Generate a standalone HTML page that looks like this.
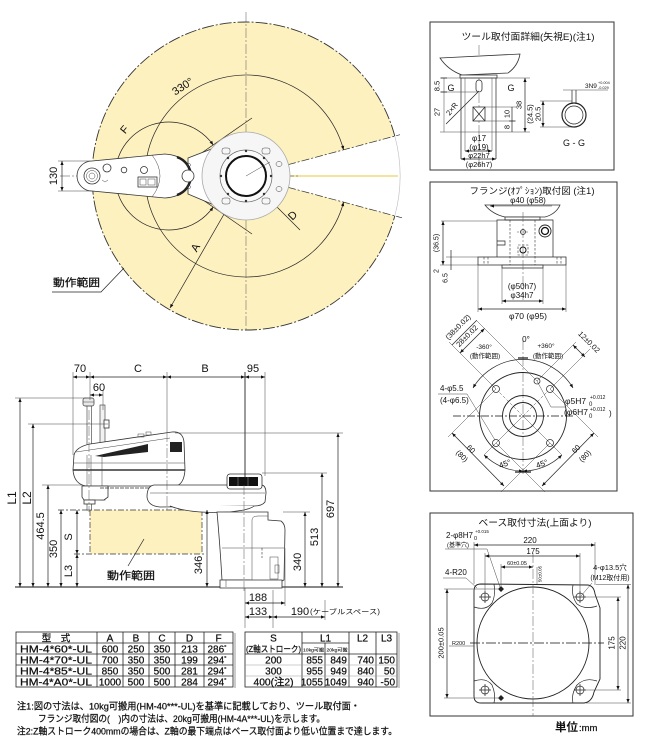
<!DOCTYPE html>
<html><head><meta charset="utf-8">
<style>
html,body{margin:0;padding:0;background:#fff;}
svg{display:block;}
text{font-family:"Liberation Sans","Noto Sans CJK JP",sans-serif;fill:#111;}
.t{stroke:#222;stroke-width:0.7;fill:none}
.th{stroke:#444;stroke-width:0.5;fill:none}
.cl{stroke:#555;stroke-width:0.5;fill:none;stroke-dasharray:10,2,2,2}
.hd{stroke:#333;stroke-width:0.6;fill:none;stroke-dasharray:2.5,1.5}
.w{fill:#fff;stroke:#333;stroke-width:0.8}
.bt{stroke:#111;stroke-width:0.25}
</style></head><body>
<svg width="649" height="740" viewBox="0 0 649 740" xmlns="http://www.w3.org/2000/svg">
<defs>
<marker id="a" viewBox="0 0 10 10" refX="10" refY="5" markerUnits="userSpaceOnUse" markerWidth="5" markerHeight="4" orient="auto-start-reverse"><path d="M0,1 L10,5 L0,9 Z" fill="#111"/></marker>
</defs>

<!-- ================= TOP VIEW ================= -->
<path d="M246,176 L394.8,136.1 A154,154 0 1,0 394.8,215.9 Z" fill="#fdf1c0"/>
<path d="M394.8,136.1 A154,154 0 1,0 394.8,215.9" fill="none" stroke="#333" stroke-width="0.9" stroke-dasharray="12,2,2,2"/>
<path d="M394.8,136.1 A154,154 0 0,1 394.8,215.9" fill="none" stroke="#bbb" stroke-width="0.6"/>
<line x1="290" y1="176" x2="398" y2="176" stroke="#f1da7c" stroke-width="1.6"/>
<line x1="246" y1="12" x2="246" y2="332" class="cl"/>
<line x1="288" y1="164.7" x2="400" y2="134.7" stroke="#333" stroke-width="0.7" stroke-dasharray="8,2,2,2"/>
<line x1="288" y1="187.3" x2="402" y2="217.8" stroke="#333" stroke-width="0.7" stroke-dasharray="8,2,2,2"/>
<path d="M343.6,149.9 A101,101 0 1,0 343.6,202.1" class="t" marker-start="url(#a)" marker-end="url(#a)"/>
<path d="M213.2,145 A54,54 0 1,0 213.2,207" class="t" marker-start="url(#a)" marker-end="url(#a)"/>
<line x1="190" y1="161" x2="252" y2="118" class="t"/>
<line x1="190" y1="191" x2="252" y2="234" class="t"/>
<line x1="246" y1="176" x2="170" y2="308" class="t" marker-end="url(#a)"/>
<line x1="246" y1="176" x2="300" y2="230" class="t"/>
<line x1="246" y1="176" x2="262" y2="192" class="t" marker-end="url(#a)"/>
<line x1="60" y1="176" x2="300" y2="176" class="th" stroke-dasharray="10,2,2,2"/>

<path d="M188,158 L214,148 L214,205 L188,194 Z" class="w"/>
<circle cx="246" cy="176" r="44" fill="#f6f6f6" stroke="#aaa" stroke-width="0.8"/>
<path d="M214,148 Q228,140 246,138 L246,214 Q228,212 214,205 Z" fill="#f6f6f6" stroke="none"/>
<rect x="222" y="148" width="8" height="6" rx="2" class="th"/>
<rect x="262" y="148" width="8" height="6" rx="2" class="th"/>
<rect x="222" y="198" width="8" height="6" rx="2" class="th"/>
<rect x="262" y="198" width="8" height="6" rx="2" class="th"/>
<ellipse cx="279" cy="164" rx="3" ry="2.5" class="th"/>
<ellipse cx="279" cy="189" rx="3" ry="2.5" class="th"/>
<circle cx="246" cy="176" r="26" fill="#fafafa" stroke="#666" stroke-width="0.7"/>
<circle cx="246" cy="176" r="20" fill="#fff" stroke="#111" stroke-width="2"/>
<g fill="#333">
<circle cx="246" cy="151" r="1.2"/><circle cx="246" cy="201" r="1.2"/><circle cx="221" cy="176" r="1.2"/><circle cx="271" cy="176" r="1.2"/>
<circle cx="264" cy="158" r="1.2"/><circle cx="228" cy="158" r="1.2"/><circle cx="228" cy="194" r="1.2"/><circle cx="264" cy="194" r="1.2"/>
</g>
<line x1="246" y1="176" x2="270" y2="162" class="th"/>
<path d="M92,161 L165,154 Q190,156 190,176 Q190,196 165,198 L92,191 A15,15 0 0 1 92,161 Z" class="w"/>
<path d="M177,157 A20,20 0 0 1 177,195" stroke="#222" stroke-width="2.5" fill="none"/>
<circle cx="188" cy="176" r="6" class="w"/>
<circle cx="189" cy="165" r="1.5" class="th"/><circle cx="189" cy="187" r="1.5" class="th"/>
<path d="M152,155 Q168,176 152,197" class="th"/>
<circle cx="92" cy="176" r="8" fill="#fff" stroke="#333" stroke-width="0.8"/>
<circle cx="92" cy="176" r="5.5" class="th"/>
<circle cx="92" cy="176" r="3" class="th"/>
<circle cx="107" cy="168" r="4" class="w"/>
<circle cx="124" cy="170" r="2.8" class="w"/>
<circle cx="144" cy="170" r="3.5" class="w"/>
<rect x="138" y="177" width="19" height="10" class="w"/>
<rect x="140" y="179" width="6" height="6" class="th"/><rect x="148" y="179" width="7" height="6" class="th"/>
<path d="M102,180 l3,2 l3,-2" class="th"/>
<line x1="58" y1="161" x2="92" y2="161" class="th"/>
<line x1="58" y1="191" x2="92" y2="191" class="th"/>
<line x1="62" y1="161" x2="62" y2="191" class="t" marker-start="url(#a)" marker-end="url(#a)"/>
<text transform="translate(54,176) rotate(-90)" text-anchor="middle" dominant-baseline="central" font-size="11">130</text>
<text transform="translate(183,87) rotate(-33)" text-anchor="middle" dominant-baseline="central" font-size="11">330°</text>
<text transform="translate(125,130) rotate(-50)" text-anchor="middle" dominant-baseline="central" font-size="11">F</text>
<text transform="translate(196,248) rotate(-60)" text-anchor="middle" dominant-baseline="central" font-size="11">A</text>
<text transform="translate(293,216) rotate(-45)" text-anchor="middle" dominant-baseline="central" font-size="11">D</text>
<text x="53" y="286" font-size="10.5" textLength="47" lengthAdjust="spacingAndGlyphs" class="bt">動作範囲</text>
<path d="M52,292 L101,292 L124,268" class="t"/>

<!-- ================= SIDE VIEW ================= -->
<rect x="90" y="510" width="112" height="44" fill="#fdf1c0"/>
<path d="M90,510 L90,554 M202,510 L202,554" stroke="#333" stroke-width="0.7" stroke-dasharray="6,2,2,2"/>
<line x1="58" y1="510" x2="204" y2="510" stroke="#333" stroke-width="0.8" stroke-dasharray="6,2,2,2"/>
<line x1="74" y1="554" x2="204" y2="554" stroke="#333" stroke-width="0.8" stroke-dasharray="6,2,2,2"/>
<text x="107" y="579" font-size="10.5" textLength="48" lengthAdjust="spacingAndGlyphs" class="bt">動作範囲</text>
<line x1="128" y1="566" x2="144" y2="539" class="t"/>
<line x1="15" y1="587" x2="343" y2="587" stroke="#111" stroke-width="1"/>

<rect x="100" y="405" width="5" height="95" fill="#f2f2f2" stroke="#333" stroke-width="0.6"/>
<rect x="104" y="420" width="5" height="8" class="w"/>
<rect x="87" y="405" width="4.5" height="105" fill="#fff" stroke="#333" stroke-width="0.6"/>
<rect x="83" y="398" width="11" height="8" rx="2" fill="#e8e8e8" stroke="#333" stroke-width="0.7"/>
<line x1="83" y1="402" x2="94" y2="402" class="th"/>
<path d="M74,455 Q76,447 90,444 L172,432 Q183,431 184,442 L185,470 Q184,484 176,486 L86,486 Q74,484 73,470 Z" class="w"/>
<line x1="73" y1="470" x2="185" y2="470" stroke="#333" stroke-width="1.4"/>
<line x1="74" y1="463" x2="185" y2="463" class="th"/>
<path d="M76,452 L170,438" class="th"/>
<path d="M95,456 L148,444 L148,452 L104,457 Z" fill="#222"/>
<rect x="170" y="442" width="12" height="10" fill="#222"/>
<rect x="138" y="434" width="6" height="3" class="th"/><rect x="146" y="432" width="5" height="3" class="th"/>
<line x1="87" y1="455" x2="87" y2="486" class="th"/><line x1="91" y1="455" x2="91" y2="486" class="th"/>
<line x1="102" y1="455" x2="102" y2="486" class="th"/>
<path d="M82,486 L108,486 L108,497 L104,500 L84,500 L82,497 Z" class="w"/>
<rect x="84" y="500" width="11" height="4" class="w"/>
<line x1="100" y1="488" x2="150" y2="488" stroke="#333" stroke-width="0.8" stroke-dasharray="4,1"/>
<path d="M154,485 L262,485 Q266,486 266,493 L265,502 Q262,506 254,506 L160,507 Q148,506 147,497 Q147,486 154,485 Z" class="w"/>
<path d="M170,506 Q190,514 230,512 L244,510 Q252,508 254,506" class="w"/>
<line x1="150" y1="493" x2="265" y2="493" class="th"/>
<rect x="227" y="474" width="35" height="15" rx="3" class="w"/>
<rect x="229" y="477" width="29" height="9" fill="#111"/>
<line x1="238" y1="477" x2="238" y2="486" stroke="#888" stroke-width="0.6"/><line x1="248" y1="477" x2="248" y2="486" stroke="#888" stroke-width="0.6"/>
<path d="M217,512 L268,512 L268,520 L281,521 Q285,524 285,530 L284,580 L276,584 L250,584 L250,580 L222,580 Q220,545 217,512 Z" class="w"/>
<path d="M252,520 Q252,516 258,516 L268,516" class="th"/>
<line x1="252" y1="520" x2="252" y2="580" class="th"/>
<line x1="222" y1="548" x2="284" y2="548" class="th"/>
<line x1="262" y1="548" x2="262" y2="558" class="hd"/>
<rect x="270" y="557" width="8" height="22" class="th"/>
<rect x="275" y="565" width="4" height="8" class="th"/>
<path d="M220,580 L282,580 L282,588 L220,588 Z" class="w"/>
<line x1="226" y1="580" x2="226" y2="587" class="th"/>
<line x1="244" y1="485" x2="244" y2="592" class="cl"/>
<line x1="167" y1="432" x2="167" y2="512" class="cl"/>
<line x1="89" y1="410" x2="89" y2="512" class="cl"/>

<line x1="73" y1="372" x2="73" y2="455" class="th"/>
<line x1="90" y1="372" x2="90" y2="400" class="th"/>
<line x1="167" y1="372" x2="167" y2="432" class="th"/>
<line x1="245" y1="372" x2="245" y2="478" stroke="#222" stroke-width="0.9"/>
<line x1="265" y1="372" x2="265" y2="476" class="th"/>
<line x1="73" y1="377" x2="90" y2="377" class="t" marker-start="url(#a)" marker-end="url(#a)"/>
<line x1="90" y1="377" x2="167" y2="377" class="t" marker-start="url(#a)" marker-end="url(#a)"/>
<line x1="167" y1="377" x2="245" y2="377" class="t" marker-start="url(#a)" marker-end="url(#a)"/>
<line x1="245" y1="377" x2="265" y2="377" class="t" marker-start="url(#a)" marker-end="url(#a)"/>
<text x="80" y="372" font-size="11" text-anchor="middle">70</text>
<text x="138" y="372" font-size="11" text-anchor="middle">C</text>
<text x="205" y="372" font-size="11" text-anchor="middle">B</text>
<text x="253" y="372" font-size="11" text-anchor="middle">95</text>
<line x1="103" y1="390" x2="103" y2="410" class="th"/>
<line x1="90" y1="395" x2="103" y2="395" class="t" marker-start="url(#a)" marker-end="url(#a)"/>
<text x="99" y="391" font-size="11" text-anchor="middle">60</text>
<line x1="15" y1="398" x2="86" y2="398" class="th"/>
<line x1="28" y1="424" x2="108" y2="424" class="th"/>
<line x1="42" y1="485" x2="82" y2="485" class="th"/>
<line x1="20" y1="398" x2="20" y2="587" class="t" marker-start="url(#a)" marker-end="url(#a)"/>
<line x1="33" y1="424" x2="33" y2="587" class="t" marker-start="url(#a)" marker-end="url(#a)"/>
<line x1="48" y1="485" x2="48" y2="587" class="t" marker-start="url(#a)" marker-end="url(#a)"/>
<line x1="61" y1="510" x2="61" y2="587" class="t" marker-start="url(#a)" marker-end="url(#a)"/>
<line x1="77" y1="510" x2="77" y2="554" class="t" marker-start="url(#a)" marker-end="url(#a)"/>
<line x1="77" y1="554" x2="77" y2="587" class="t" marker-start="url(#a)" marker-end="url(#a)"/>
<text transform="translate(12,498) rotate(-90)" text-anchor="middle" dominant-baseline="central" font-size="12">L1</text>
<text transform="translate(27,498) rotate(-90)" text-anchor="middle" dominant-baseline="central" font-size="12">L2</text>
<text transform="translate(41,526) rotate(-90)" text-anchor="middle" dominant-baseline="central" font-size="11">464.5</text>
<text transform="translate(54,549) rotate(-90)" text-anchor="middle" dominant-baseline="central" font-size="11">350</text>
<text transform="translate(69,537) rotate(-90)" text-anchor="middle" dominant-baseline="central" font-size="11">S</text>
<text transform="translate(69,571) rotate(-90)" text-anchor="middle" dominant-baseline="central" font-size="11">L3</text>
<line x1="207" y1="510" x2="207" y2="587" class="t" marker-start="url(#a)" marker-end="url(#a)"/>
<text transform="translate(199,565) rotate(-90)" text-anchor="middle" dominant-baseline="central" font-size="11">346</text>
<line x1="175" y1="433" x2="343" y2="433" class="th"/>
<line x1="262" y1="473" x2="327" y2="473" class="th"/>
<line x1="283" y1="512" x2="310" y2="512" class="th"/>
<line x1="305" y1="512" x2="305" y2="587" class="t" marker-start="url(#a)" marker-end="url(#a)"/>
<line x1="322" y1="473" x2="322" y2="587" class="t" marker-start="url(#a)" marker-end="url(#a)"/>
<line x1="338" y1="433" x2="338" y2="587" class="t" marker-start="url(#a)" marker-end="url(#a)"/>
<text transform="translate(298,562) rotate(-90)" text-anchor="middle" dominant-baseline="central" font-size="11">340</text>
<text transform="translate(315,537) rotate(-90)" text-anchor="middle" dominant-baseline="central" font-size="11">513</text>
<text transform="translate(331,509) rotate(-90)" text-anchor="middle" dominant-baseline="central" font-size="11">697</text>
<line x1="245" y1="588" x2="245" y2="628" class="th"/>
<line x1="285" y1="548" x2="285" y2="606" class="th"/>
<line x1="273" y1="590" x2="273" y2="628" class="th"/>
<line x1="325" y1="600" x2="325" y2="620" class="th"/>
<line x1="245" y1="603" x2="285" y2="603" class="t" marker-start="url(#a)" marker-end="url(#a)"/>
<line x1="245" y1="617" x2="273" y2="617" class="t" marker-start="url(#a)" marker-end="url(#a)"/>
<line x1="273" y1="617" x2="325" y2="617" class="t" marker-start="url(#a)" marker-end="url(#a)"/>
<text x="258" y="601" font-size="11" text-anchor="middle">188</text>
<text x="258" y="615" font-size="11" text-anchor="middle">133</text>
<text x="300" y="615" font-size="11" text-anchor="middle">190</text>
<text x="310" y="614" font-size="7" textLength="70" lengthAdjust="spacingAndGlyphs">(ケーブルスペース)</text>

<!-- ================= TABLES ================= -->
<g stroke="#222" stroke-width="0.8" fill="none">
<rect x="16" y="632" width="217" height="55"/>
<line x1="16" y1="643" x2="233" y2="643"/><line x1="16" y1="654" x2="233" y2="654"/><line x1="16" y1="665" x2="233" y2="665"/><line x1="16" y1="676" x2="233" y2="676"/>
<line x1="97" y1="632" x2="97" y2="687"/><line x1="123" y1="632" x2="123" y2="687"/><line x1="149" y1="632" x2="149" y2="687"/><line x1="175" y1="632" x2="175" y2="687"/><line x1="204" y1="632" x2="204" y2="687"/>
<rect x="245" y="632" width="152" height="55"/>
<line x1="245" y1="654" x2="397" y2="654"/>
<line x1="302" y1="643" x2="349" y2="643"/>
<line x1="302" y1="632" x2="302" y2="687"/><line x1="325" y1="643" x2="325" y2="687"/><line x1="349" y1="632" x2="349" y2="687"/><line x1="376" y1="632" x2="376" y2="687"/>
</g>
<line x1="245" y1="665" x2="397" y2="665" stroke="#999" stroke-width="0.6"/>
<line x1="245" y1="676" x2="397" y2="676" stroke="#999" stroke-width="0.6"/>
<line x1="235" y1="633" x2="235" y2="688" stroke="#bbb" stroke-width="1.5"/>
<line x1="399" y1="633" x2="399" y2="688" stroke="#bbb" stroke-width="1.5"/>
<g font-size="10" text-anchor="middle" class="bt">
<text x="56" y="641.5" font-size="9.5">型　式</text>
<text x="110" y="641.5">A</text><text x="136" y="641.5">B</text><text x="162" y="641.5">C</text><text x="189.5" y="641.5">D</text><text x="218.5" y="641.5">F</text>
<text x="56" y="652.5" textLength="72" lengthAdjust="spacingAndGlyphs">HM-4*60*-UL</text>
<text x="56" y="663.5" textLength="72" lengthAdjust="spacingAndGlyphs">HM-4*70*-UL</text>
<text x="56" y="674.5" textLength="72" lengthAdjust="spacingAndGlyphs">HM-4*85*-UL</text>
<text x="56" y="685.5" textLength="72" lengthAdjust="spacingAndGlyphs">HM-4*A0*-UL</text>
<text x="110" y="652.5">600</text><text x="136" y="652.5">250</text><text x="162" y="652.5">350</text><text x="189.5" y="652.5">213</text><text x="217" y="652.5">286<tspan font-size="6" dy="-3">°</tspan></text>
<text x="110" y="663.5">700</text><text x="136" y="663.5">350</text><text x="162" y="663.5">350</text><text x="189.5" y="663.5">199</text><text x="217" y="663.5">294<tspan font-size="6" dy="-3">°</tspan></text>
<text x="110" y="674.5">850</text><text x="136" y="674.5">350</text><text x="162" y="674.5">500</text><text x="189.5" y="674.5">281</text><text x="217" y="674.5">294<tspan font-size="6" dy="-3">°</tspan></text>
<text x="110" y="685.5">1000</text><text x="136" y="685.5">500</text><text x="162" y="685.5">500</text><text x="189.5" y="685.5">284</text><text x="217" y="685.5">294<tspan font-size="6" dy="-3">°</tspan></text>
<text x="273.5" y="641.5">S</text>
<text x="273.5" y="652" font-size="8.5" textLength="55" lengthAdjust="spacingAndGlyphs">(Z軸ストローク)</text>
<text x="325.5" y="641.5">L1</text>
<text x="313.5" y="651.5" font-size="4.8" textLength="21" lengthAdjust="spacingAndGlyphs" stroke-width="0.1">10kg可搬</text>
<text x="337" y="651.5" font-size="4.8" textLength="21" lengthAdjust="spacingAndGlyphs" stroke-width="0.1">20kg可搬</text>
<text x="362.5" y="641.5">L2</text><text x="386.5" y="641.5">L3</text>
<text x="273.5" y="663.5">200</text><text x="273.5" y="674.5">300</text><text x="273.5" y="685.5" textLength="40" lengthAdjust="spacingAndGlyphs">400(注2)</text>
</g>
<g font-size="10" text-anchor="end" class="bt">
<text x="323" y="663.5">855</text><text x="347" y="663.5">849</text><text x="374" y="663.5">740</text><text x="395" y="663.5">150</text>
<text x="323" y="674.5">955</text><text x="347" y="674.5">949</text><text x="374" y="674.5">840</text><text x="395" y="674.5">50</text>
<text x="323" y="685.5">1055</text><text x="347" y="685.5">1049</text><text x="374" y="685.5">940</text><text x="395" y="685.5">-50</text>
</g>
<g class="bt">
<text x="17" y="709.5" font-size="9.5" textLength="343" lengthAdjust="spacingAndGlyphs">注1:図の寸法は、10kg可搬用(HM-40***-UL)を基準に記載しており、ツール取付面・</text>
<text x="38" y="722" font-size="9.5" textLength="287" lengthAdjust="spacingAndGlyphs">フランジ取付図の(　)内の寸法は、20kg可搬用(HM-4A***-UL)を示します。</text>
<text x="17" y="734.5" font-size="9.5" textLength="380" lengthAdjust="spacingAndGlyphs">注2:Z軸ストローク400mmの場合は、Z軸の最下端点はベース取付面より低い位置まで達します。</text>
</g>

<!-- ================= BOX 1 ================= -->
<rect x="430" y="22" width="184" height="148" fill="none" stroke="#333" stroke-width="1"/>
<text x="528" y="40" font-size="9.5" text-anchor="middle" textLength="133" lengthAdjust="spacingAndGlyphs">ツール取付面詳細(矢視E)(注1)</text>
<line x1="479" y1="45" x2="479" y2="166" class="cl"/>
<path d="M440,58 L520,54 Q518,66 508,73 L462,75 Q448,70 440,58 Z" class="w"/>
<rect x="460" y="75" width="37" height="3" class="w"/>
<line x1="461" y1="78" x2="461" y2="159" class="t"/>
<line x1="496" y1="78" x2="496" y2="159" class="t"/>
<line x1="465" y1="78" x2="465" y2="151" class="th"/>
<line x1="492" y1="78" x2="492" y2="151" class="th"/>
<rect x="476" y="80" width="6" height="12" rx="3" class="w"/>
<rect x="473" y="107" width="12" height="14" class="w"/>
<path d="M473,107 L485,121 M485,107 L473,121" class="t"/>
<line x1="440" y1="78" x2="530" y2="78" class="th"/>
<line x1="440" y1="92" x2="478" y2="92" class="th"/>
<line x1="440" y1="132" x2="530" y2="132" class="th"/>
<line x1="485" y1="107" x2="516" y2="107" class="th"/>
<line x1="485" y1="121" x2="516" y2="121" class="th"/>
<line x1="444" y1="78" x2="444" y2="132" class="th"/>
<path d="M441,92 l6,0 M441,78 l6,0" class="t"/>
<text transform="translate(437,86) rotate(-90)" font-size="7.5" text-anchor="middle" dominant-baseline="central">8.5</text>
<text transform="translate(437,112) rotate(-90)" font-size="7.5" text-anchor="middle" dominant-baseline="central">27</text>
<text x="451" y="91" font-size="9" text-anchor="middle">G</text>
<text x="511" y="91" font-size="9" text-anchor="middle">G</text>
<line x1="446" y1="124" x2="479" y2="91" class="t"/>
<text transform="translate(452,109) rotate(-52)" font-size="7.5" text-anchor="middle" dominant-baseline="central">2×R</text>
<line x1="525" y1="78" x2="525" y2="132" class="t" marker-start="url(#a)" marker-end="url(#a)"/>
<text transform="translate(519,105) rotate(-90)" font-size="7.5" text-anchor="middle" dominant-baseline="central">38</text>
<line x1="512" y1="107" x2="512" y2="132" class="t"/>
<path d="M509,121 l6,0" class="t"/>
<text transform="translate(507,114) rotate(-90)" font-size="7.5" text-anchor="middle" dominant-baseline="central">10</text>
<text transform="translate(507,127) rotate(-90)" font-size="7.5" text-anchor="middle" dominant-baseline="central">8</text>
<text x="479" y="141" font-size="8" text-anchor="middle">φ17</text>
<line x1="465" y1="151" x2="492" y2="151" class="t" marker-start="url(#a)" marker-end="url(#a)"/>
<text x="479" y="150" font-size="8" text-anchor="middle">(φ19)</text>
<line x1="461" y1="159" x2="496" y2="159" class="t" marker-start="url(#a)" marker-end="url(#a)"/>
<text x="479" y="158" font-size="7.5" text-anchor="middle">φ22h7</text>
<text x="479" y="167" font-size="7.5" text-anchor="middle">(φ26h7)</text>
<circle cx="574" cy="115" r="12" fill="none" stroke="#222" stroke-width="1.2"/>
<circle cx="574" cy="115" r="9" class="t"/>
<path d="M572,90 L572,104 M576,90 L576,104" class="t"/>
<line x1="563" y1="90" x2="608" y2="90" class="th"/>
<text x="585" y="88" font-size="6.5">3N9</text>
<text x="598" y="84" font-size="3.8">+0.004</text>
<text x="598" y="89" font-size="3.8">-0.029</text>
<line x1="540" y1="101" x2="572" y2="101" class="th"/>
<line x1="540" y1="127" x2="574" y2="127" class="th"/>
<line x1="543" y1="101" x2="543" y2="127" class="t" marker-start="url(#a)" marker-end="url(#a)"/>
<text transform="translate(538,114) rotate(-90)" font-size="7.5" text-anchor="middle" dominant-baseline="central">20.5</text>
<text transform="translate(530,114) rotate(-90)" font-size="7.5" text-anchor="middle" dominant-baseline="central">(24.5)</text>
<text x="574" y="146" font-size="9" text-anchor="middle">G - G</text>

<!-- ================= BOX 2 ================= -->
<rect x="430" y="182" width="187" height="309" fill="none" stroke="#333" stroke-width="1"/>
<text x="532" y="194" font-size="9" text-anchor="middle" textLength="125" lengthAdjust="spacingAndGlyphs">フランジ(ｵﾌﾟｼｮﾝ)取付図 (注1)</text>
<path d="M485,205 L560,205 Q556,214 545,217 L505,217 Q492,214 485,205 Z" class="w"/>
<text x="528" y="203" font-size="8" text-anchor="middle">φ40 (φ58)</text>
<line x1="552" y1="206" x2="490" y2="206" class="th" marker-end="url(#a)"/>
<rect x="505" y="217" width="35" height="3" class="w"/>
<path d="M497,257 L497,220 L553,220 L553,257" class="t"/>
<line x1="441" y1="221" x2="497" y2="221" class="th"/>
<path d="M497,241 L505,241 L505,245 L497,245" class="t"/>
<rect x="478" y="257" width="88" height="8" class="w"/>
<rect x="502" y="265" width="41" height="3" class="w"/>
<line x1="510" y1="220" x2="510" y2="265" class="hd"/>
<line x1="535" y1="220" x2="535" y2="265" class="hd"/>
<line x1="484" y1="257" x2="484" y2="265" class="hd"/><line x1="488" y1="257" x2="488" y2="265" class="hd"/>
<line x1="557" y1="257" x2="557" y2="265" class="hd"/><line x1="561" y1="257" x2="561" y2="265" class="hd"/>
<line x1="523" y1="212" x2="523" y2="300" class="cl"/>
<circle cx="545" cy="231" r="6" fill="#fff" stroke="#222" stroke-width="0.9"/>
<circle cx="545" cy="231" r="3.5" fill="none" stroke="#111" stroke-width="1.3"/>
<circle cx="523" cy="232" r="2.5" class="t"/>
<path d="M517,232 h12" class="th" stroke-dasharray="2,1"/>
<rect x="518" y="245" width="10" height="10" class="hd"/>
<circle cx="523" cy="250" r="3" fill="none" stroke="#111" stroke-width="1"/>
<line x1="478" y1="265" x2="478" y2="312" class="th"/>
<line x1="566" y1="265" x2="566" y2="312" class="th"/>
<line x1="502" y1="268" x2="502" y2="304" class="th"/>
<line x1="543" y1="268" x2="543" y2="304" class="th"/>
<text x="522" y="289" font-size="8" text-anchor="middle">(φ50h7)</text>
<text x="522" y="298" font-size="8" text-anchor="middle">φ34h7</text>
<line x1="502" y1="301" x2="543" y2="301" class="t" marker-start="url(#a)" marker-end="url(#a)"/>
<line x1="478" y1="309" x2="566" y2="309" class="t" marker-start="url(#a)" marker-end="url(#a)"/>
<text x="528" y="319" font-size="8.5" text-anchor="middle">φ70 (φ95)</text>
<line x1="443" y1="221" x2="443" y2="265" class="t" marker-start="url(#a)" marker-end="url(#a)"/>
<line x1="440" y1="265" x2="478" y2="265" class="th"/>
<line x1="446" y1="257" x2="478" y2="257" class="th"/>
<line x1="451" y1="250" x2="451" y2="270" class="t"/>
<text transform="translate(437,243) rotate(-90)" font-size="7" text-anchor="middle" dominant-baseline="central">(36.5)</text>
<text transform="translate(437,271) rotate(-90)" font-size="7" text-anchor="middle" dominant-baseline="central">2</text>
<text transform="translate(446,278) rotate(-90)" font-size="7" text-anchor="middle" dominant-baseline="central">6.5</text>
<line x1="523" y1="340" x2="523" y2="474" class="cl"/>
<line x1="453" y1="416" x2="573" y2="416" stroke="#111" stroke-width="0.8" stroke-dasharray="8,2,2,2"/>
<circle cx="523" cy="416" r="43.5" fill="none" stroke="#222" stroke-width="0.9"/>
<circle cx="523" cy="416" r="20.5" fill="none" stroke="#222" stroke-width="0.9"/>
<circle cx="523" cy="416" r="13.5" fill="none" stroke="#222" stroke-width="0.9"/>
<path d="M496,389 L550,443 M550,389 L496,443" class="th" stroke-dasharray="3,2"/>
<circle cx="496" cy="389" r="3.5" class="w"/><circle cx="550" cy="389" r="3.5" class="w"/>
<circle cx="496" cy="443" r="3.5" class="w"/><circle cx="550" cy="443" r="3.5" class="w"/>
<circle cx="537" cy="381" r="3" class="w"/>
<path d="M473,388 A58,58 0 0,1 573,388" class="t" marker-start="url(#a)" marker-end="url(#a)"/>
<line x1="518" y1="358" x2="528" y2="358" stroke="#111" stroke-width="1.2"/>
<text x="526" y="342" font-size="8" text-anchor="middle">0°</text>
<text x="484" y="349" font-size="6.5" text-anchor="middle">-360°</text>
<text x="485" y="358" font-size="6.5" text-anchor="middle">(動作範囲)</text>
<text x="546" y="348" font-size="6.5" text-anchor="middle">+360°</text>
<text x="548" y="358" font-size="6.5" text-anchor="middle">(動作範囲)</text>
<line x1="537" y1="381" x2="476" y2="320" class="th"/>
<line x1="496" y1="389" x2="449" y2="342" class="th"/>
<line x1="460" y1="353" x2="484.5" y2="328.5" class="t" marker-start="url(#a)" marker-end="url(#a)"/>
<line x1="452" y1="345" x2="476.5" y2="320.5" class="t"/>
<text transform="translate(467,336) rotate(-45)" font-size="7.5" text-anchor="middle" dominant-baseline="central">28±0.02</text>
<text transform="translate(458,327) rotate(-45)" font-size="7.5" text-anchor="middle" dominant-baseline="central">(38±0.02)</text>
<line x1="537" y1="381" x2="576" y2="342" class="th"/>
<line x1="550" y1="389" x2="590" y2="349" class="th"/>
<line x1="573" y1="345" x2="585" y2="357" class="t" marker-start="url(#a)" marker-end="url(#a)"/>
<text transform="translate(589,342) rotate(45)" font-size="7.5" text-anchor="middle" dominant-baseline="central">12±0.02</text>
<text x="440" y="391" font-size="8">4-φ5.5</text>
<text x="440" y="403" font-size="8">(4-φ6.5)</text>
<path d="M438,394 L467,394 L495,440" class="th"/>
<path d="M537,381 L551,407 L566,407" class="th"/>
<text x="565" y="404" font-size="8.5">φ5H7</text>
<text x="590" y="399" font-size="5">+0.012</text>
<text x="589" y="406" font-size="6">0</text>
<text x="564" y="415" font-size="8.5">(φ6H7</text>
<text x="590" y="411" font-size="5">+0.012</text>
<text x="589" y="418" font-size="6">0</text><text x="609" y="416" font-size="8">)</text>
<line x1="523" y1="416" x2="484.1" y2="454.9" class="th"/>
<line x1="523" y1="416" x2="561.9" y2="454.9" class="th"/>
<line x1="515" y1="472" x2="531" y2="472" stroke="#111" stroke-width="1.2"/>
<path d="M484.1,454.9 A55,55 0 0,0 523,471" class="t" marker-start="url(#a)" marker-end="url(#a)"/>
<path d="M523,471 A55,55 0 0,0 561.9,454.9" class="t" marker-start="url(#a)" marker-end="url(#a)"/>
<text transform="translate(505,464) rotate(-20)" font-size="8" text-anchor="middle" dominant-baseline="central">45°</text>
<text transform="translate(542,464) rotate(-20)" font-size="8" text-anchor="middle" dominant-baseline="central">45°</text>
<line x1="496" y1="389" x2="448" y2="437" class="th"/>
<line x1="550" y1="443" x2="501" y2="492" class="th"/>
<line x1="452" y1="433" x2="504" y2="486" class="t" marker-start="url(#a)" marker-end="url(#a)"/>
<text transform="translate(471,449) rotate(45)" font-size="7.5" text-anchor="middle" dominant-baseline="central">60</text>
<text transform="translate(462,456) rotate(45)" font-size="7.5" text-anchor="middle" dominant-baseline="central">(80)</text>
<line x1="550" y1="389" x2="598" y2="437" class="th"/>
<line x1="496" y1="443" x2="545" y2="492" class="th"/>
<line x1="594" y1="433" x2="542" y2="486" class="t" marker-start="url(#a)" marker-end="url(#a)"/>
<text transform="translate(576,449) rotate(-45)" font-size="7.5" text-anchor="middle" dominant-baseline="central">60</text>
<text transform="translate(585,456) rotate(-45)" font-size="7.5" text-anchor="middle" dominant-baseline="central">(80)</text>

<!-- ================= BOX 3 ================= -->
<rect x="430" y="513" width="203" height="203" fill="none" stroke="#333" stroke-width="1"/>
<text x="535" y="526" font-size="9.5" text-anchor="middle" textLength="113" lengthAdjust="spacingAndGlyphs">ベース取付寸法(上面より)</text>
<line x1="533" y1="553" x2="533" y2="716" class="cl"/>
<path d="M481,584 L588,585 Q594,586 595,594 L600,608 L600,679 L594,692 Q592,702 584,703 L481,703 Q474,703 474,696 L474,591 Q474,584 481,584 Z" fill="#fff" stroke="#222" stroke-width="0.9"/>
<path d="M474,607 Q486,611 492,603 Q496,595 494,584" class="t"/>
<path d="M573,585 Q571,596 577,604 Q585,610 597,606" class="t"/>
<path d="M474,681 Q486,677 492,685 Q496,694 494,703" class="t"/>
<path d="M597,681 Q585,677 577,685 Q571,694 573,703" class="t"/>
<circle cx="533" cy="643" r="56" fill="#fff" stroke="#222" stroke-width="0.9"/>
<line x1="470" y1="643" x2="604" y2="643" stroke="#111" stroke-width="0.8" stroke-dasharray="10,2,2,2"/>
<line x1="533" y1="584" x2="533" y2="703" class="cl"/>
<g class="t">
<circle cx="485" cy="597" r="4"/><circle cx="580" cy="597" r="4"/><circle cx="485" cy="690" r="4"/><circle cx="580" cy="690" r="4"/>
<path d="M485,591 v12 M479,597 h12 M580,591 v12 M574,597 h12 M485,684 v12 M479,690 h12 M580,684 v12 M574,690 h12"/>
</g>
<path d="M501,586 l3,3 l-3,3 l-3,-3 Z M501,695 l3,3 l-3,3 l-3,-3 Z" fill="#222"/>
<line x1="474" y1="542" x2="474" y2="584" class="th"/>
<line x1="595" y1="542" x2="595" y2="585" class="th"/>
<line x1="474" y1="545" x2="595" y2="545" class="t" marker-start="url(#a)" marker-end="url(#a)"/>
<text x="530" y="543" font-size="8" text-anchor="middle">220</text>
<line x1="485" y1="553" x2="485" y2="592" class="th"/>
<line x1="580" y1="553" x2="580" y2="592" class="th"/>
<line x1="485" y1="556" x2="580" y2="556" class="t" marker-start="url(#a)" marker-end="url(#a)"/>
<text x="533" y="554" font-size="8" text-anchor="middle">175</text>
<line x1="501" y1="564" x2="501" y2="586" class="th"/>
<line x1="501" y1="567" x2="533" y2="567" class="t" marker-start="url(#a)" marker-end="url(#a)"/>
<text x="517" y="565" font-size="5.5" text-anchor="middle">60±0.05</text>
<line x1="537" y1="567" x2="537" y2="584" class="th"/>
<text transform="translate(540,574) rotate(-90)" font-size="4.5" text-anchor="middle" dominant-baseline="central">50±0.05</text>
<text x="446" y="538" font-size="8">2-φ8H7</text>
<text x="475" y="533" font-size="4.5">+0.015</text>
<text x="474" y="540" font-size="5.5">0</text>
<text x="447" y="547" font-size="6">(基準穴)</text>
<path d="M445,549 L487,549 L500,587" class="th"/>
<text x="445" y="575" font-size="8">4-R20</text>
<path d="M443,578 L466,578 L477,588" class="th"/>
<text x="610" y="570" font-size="7.5" text-anchor="middle">4-φ13.5穴</text>
<text x="610" y="580" font-size="7" text-anchor="middle">(M12取付用)</text>
<path d="M592,583 L581,596" class="th"/>
<line x1="449" y1="646" x2="474" y2="646" class="th"/>
<text x="452" y="645" font-size="5.5">R200</text>
<line x1="444" y1="589" x2="498" y2="589" class="th"/>
<line x1="444" y1="698" x2="498" y2="698" class="th"/>
<line x1="447" y1="589" x2="447" y2="698" class="t" marker-start="url(#a)" marker-end="url(#a)"/>
<text transform="translate(441,643) rotate(-90)" font-size="7.5" text-anchor="middle" dominant-baseline="central">200±0.05</text>
<line x1="584" y1="597" x2="621" y2="597" class="th"/>
<line x1="584" y1="690" x2="621" y2="690" class="th"/>
<line x1="596" y1="584.5" x2="631" y2="584.5" class="th"/>
<line x1="586" y1="703" x2="631" y2="703" class="th"/>
<line x1="618" y1="597" x2="618" y2="690" class="t" marker-start="url(#a)" marker-end="url(#a)"/>
<line x1="628" y1="584.5" x2="628" y2="703" class="t" marker-start="url(#a)" marker-end="url(#a)"/>
<text transform="translate(612,643) rotate(-90)" font-size="8" text-anchor="middle" dominant-baseline="central">175</text>
<text transform="translate(623,643) rotate(-90)" font-size="8" text-anchor="middle" dominant-baseline="central">220</text>
<text x="555" y="731" font-size="11.5" font-weight="bold">単位</text>
<text x="579" y="731" font-size="9.5" class="bt">:mm</text>
</svg>
</body></html>
